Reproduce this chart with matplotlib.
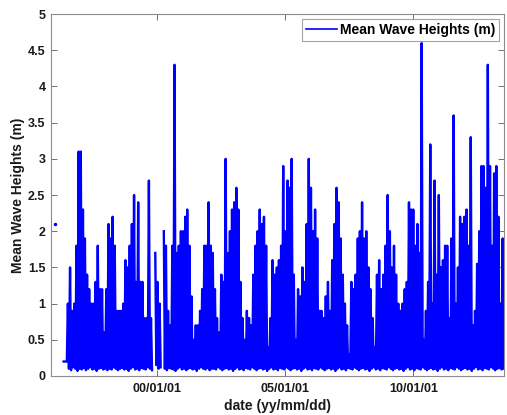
import numpy as np
import pandas as pd
import matplotlib
matplotlib.use("Agg")
import matplotlib.pyplot as plt
import matplotlib.dates as mdates

plt.rcParams['font.family'] = ['Liberation Sans', 'DejaVu Sans']
plt.rcParams['font.weight'] = 'bold'
plt.rcParams['axes.labelweight'] = 'bold'

# Data: monthly high / low of the mean wave height (m)
first_month = '1996-05-01'
nan = np.nan

monthly_max = [
    0.2, 0.2, 1.0, 1.5, 0.9, 1.0, 1.8, 3.1, 3.1, 2.3,
    1.9, 1.4, 1.2, 1.0, 1.0, 1.3, 1.8, 1.2, 1.2, 0.6,
    1.2, 2.1, 1.9, 2.2, 1.8, 0.9, 0.9, 0.9, 1.0, 1.6,
    1.5, 1.8, 2.1, 2.5, 1.3, 2.4, 1.3, 1.3, 0.8, 0.8,
    2.7, 0.8, nan, 1.7, 1.3, 1.0, nan, 2.0, 1.8, 0.9,
    0.7, 1.8, 4.3, 1.7, 1.8, 2.0, 2.0, 2.2, 2.3, 1.8,
    1.1, 0.5, 0.7, 0.7, 0.9, 1.2, 1.8, 1.8, 2.4, 1.8,
    1.7, 1.2, 0.8, 0.6, 1.4, 1.3, 3.0, 1.7, 2.0, 2.3,
    2.4, 2.6, 2.3, 1.3, 0.8, 0.5, 0.9, 0.8, 0.7, 1.4,
    1.8, 2.0, 2.3, 2.1, 2.2, 1.8, 0.4, 0.8, 1.6, 1.4,
    1.5, 1.6, 1.8, 2.9, 2.0, 2.7, 2.6, 3.0, 1.4, 0.5,
    1.2, 1.1, 1.5, 1.3, 2.1, 3.0, 2.6, 2.0, 2.3, 1.9,
    0.9, 0.9, 0.8, 1.1, 1.3, 0.9, 1.6, 2.1, 2.6, 2.4,
    1.9, 1.4, 1.0, 0.7, 0.3, 1.3, 1.2, 1.4, 1.9, 2.0,
    2.4, 1.9, 2.0, 1.5, 1.2, 0.8, 0.4, 1.4, 1.6, 1.2,
    1.4, 1.8, 2.5, 2.0, 1.5, 1.8, 1.4, 1.0, 0.9, 1.0,
    1.2, 1.3, 2.4, 2.3, 2.3, 1.8, 2.1, 1.7, 4.6, 0.5,
    0.9, 1.3, 3.2, 1.0, 2.7, 1.4, 2.5, 1.5, 1.6, 1.8,
    1.8, 0.8, 1.9, 3.6, 1.0, 1.5, 2.2, 2.1, 2.2, 2.3,
    1.8, 3.3, 0.7, 0.9, 1.55, 2.0, 2.9, 2.9, 2.6, 4.3,
    2.9, 1.8, 2.8, 2.9, 2.2, 1.0, 1.9, 1.0,
]

monthly_min = [
    0.2, 0.2, 0.10, 0.08, 0.12, 0.10, 0.07, 0.10, 0.09, 0.11,
    0.08, 0.10, 0.12, 0.09, 0.10, 0.07, 0.10, 0.11, 0.09, 0.10,
    0.08, 0.10, 0.09, 0.12, 0.10, 0.08, 0.10, 0.11, 0.09, 0.10,
    0.07, 0.10, 0.12, 0.09, 0.10, 0.08, 0.11, 0.10, 0.09, 0.12,
    0.10, 0.08, nan, 0.15, 0.10, 0.12, nan, 0.10, 0.08, 0.11,
    0.10, 0.09, 0.07, 0.10, 0.12, 0.09, 0.10, 0.08, 0.10, 0.11,
    0.09, 0.10, 0.07, 0.10, 0.12, 0.10, 0.09, 0.11, 0.08, 0.10,
    0.10, 0.09, 0.12, 0.10, 0.08, 0.10, 0.11, 0.09, 0.10, 0.07,
    0.10, 0.12, 0.09, 0.10, 0.08, 0.11, 0.10, 0.09, 0.12, 0.10,
    0.08, 0.10, 0.11, 0.09, 0.10, 0.07, 0.10, 0.12, 0.09, 0.10,
    0.08, 0.11, 0.10, 0.09, 0.12, 0.10, 0.08, 0.10, 0.11, 0.09,
    0.10, 0.07, 0.10, 0.12, 0.09, 0.10, 0.08, 0.11, 0.10, 0.09,
    0.12, 0.10, 0.08, 0.10, 0.11, 0.09, 0.10, 0.07, 0.10, 0.12,
    0.09, 0.10, 0.08, 0.11, 0.10, 0.09, 0.12, 0.10, 0.08, 0.10,
    0.11, 0.09, 0.10, 0.07, 0.10, 0.12, 0.09, 0.10, 0.08, 0.11,
    0.10, 0.09, 0.12, 0.10, 0.08, 0.10, 0.11, 0.09, 0.10, 0.07,
    0.10, 0.12, 0.09, 0.10, 0.08, 0.11, 0.10, 0.09, 0.12, 0.10,
    0.08, 0.10, 0.11, 0.09, 0.10, 0.07, 0.10, 0.12, 0.09, 0.10,
    0.08, 0.11, 0.10, 0.09, 0.12, 0.10, 0.08, 0.10, 0.11, 0.09,
    0.10, 0.07, 0.10, 0.12, 0.09, 0.10, 0.08, 0.11, 0.10, 0.09,
    0.12, 0.10, 0.08, 0.10, 0.11, 0.09, 0.10, 0.10,
]

# lone first reading, not joined to the rest
first_reading_date = '1996-01-01'
first_reading_height = 2.1

xtick_dates = ['2000-01-01', '2005-01-01', '2010-01-01']
ytick_values = [0, 0.5, 1, 1.5, 2, 2.5, 3, 3.5, 4, 4.5, 5]
ytick_labels = ['0', '0.5', '1', '1.5', '2', '2.5', '3', '3.5', '4', '4.5', '5']

# highs on the 1st, lows mid-month -> one line zigzagging through both
month_starts = pd.date_range(first_month, periods=len(monthly_max), freq='MS')
mid_months = month_starts + pd.Timedelta(days=15)
times = np.column_stack([month_starts.values, mid_months.values]).ravel()
heights = np.column_stack([monthly_max, monthly_min]).ravel()

fig = plt.figure(figsize=(5.07, 4.15), dpi=100)
ax = fig.add_axes([0.1006, 0.094, 0.8935, 0.872])

blue = '#0000ff'
ax.plot(times, heights, color=blue, lw=1.7, label='Mean Wave Heights (m)')
ax.plot(pd.Timestamp(first_reading_date), first_reading_height, 'o',
        color=blue, ms=2.5, mew=0)

ax.set_xlim(pd.Timestamp('1995-11-03'), pd.Timestamp('2013-07-20'))
ax.set_ylim(0, 5)
ax.set_xticks(pd.to_datetime(xtick_dates))
ax.xaxis.set_major_formatter(mdates.DateFormatter('%y/%m/%d'))
ax.set_yticks(ytick_values)
ax.set_yticklabels(ytick_labels)

ax.tick_params(direction='in', top=True, right=True, length=4, width=0.6,
               color='0.35', labelsize=9, labelcolor='#1a1a1a')
ax.tick_params(axis='x', pad=5)
ax.tick_params(axis='y', pad=4)
for lab in ax.get_xticklabels() + ax.get_yticklabels():
    lab.set_fontweight('bold')
for s in ax.spines.values():
    s.set_color('0.55')
    s.set_linewidth(0.8)

ax.set_xlabel('date (yy/mm/dd)', fontsize=10, fontweight='bold',
              color='#1a1a1a', labelpad=3)
ax.set_ylabel('Mean Wave Heights (m)', fontsize=10, fontweight='bold',
              color='#1a1a1a', labelpad=2)

leg = ax.legend(loc='upper right', fancybox=False, handlelength=2.2,
                borderaxespad=0.35, borderpad=0.3, handletextpad=0.2,
                prop={'weight': 'bold', 'size': 10})
leg.get_frame().set_edgecolor('0.55')
leg.get_frame().set_linewidth(0.8)
leg.get_lines()[0].set_linewidth(1.2)

fig.savefig('out.png', dpi=100)
